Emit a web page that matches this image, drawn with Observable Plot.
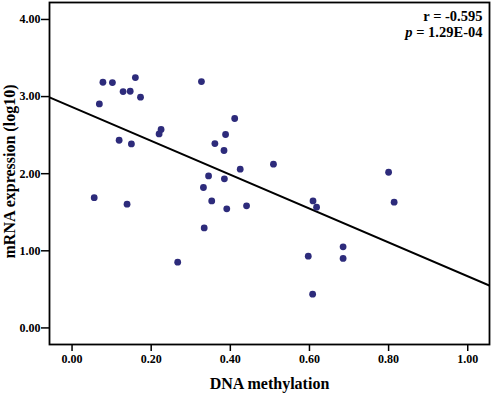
<!DOCTYPE html>
<html>
<head>
<meta charset="utf-8">
<script src="https://cdn.jsdelivr.net/npm/d3@7"></script>
<script src="https://cdn.jsdelivr.net/npm/@observablehq/plot@0.6"></script>
<style>
  html, body { margin: 0; padding: 0; background: #fff; }
  #chart svg { display: block; }
</style>
</head>
<body>
<div id="chart"></div>
<script>
// DNA methylation (x) and mRNA expression log10 (y) for each sample
const methylation = [0.056, 0.069, 0.078, 0.102, 0.129, 0.147, 0.160, 0.173, 0.119, 0.139,
  0.150, 0.220, 0.225, 0.267, 0.327, 0.332, 0.334, 0.345, 0.353, 0.361,
  0.384, 0.388, 0.385, 0.391, 0.411, 0.425, 0.441, 0.509, 0.597, 0.608,
  0.609, 0.618, 0.685, 0.685, 0.800, 0.814];
const expression = [1.689, 2.905, 3.186, 3.182, 3.065, 3.069, 3.247, 2.992, 2.434, 1.605,
  2.386, 2.516, 2.573, 0.853, 3.195, 1.821, 1.297, 1.971, 1.647, 2.391,
  2.301, 2.508, 1.933, 1.544, 2.716, 2.058, 1.583, 2.123, 0.931, 0.438,
  1.647, 1.566, 1.051, 0.901, 2.019, 1.631];
const xTicks = [0, 0.2, 0.4, 0.6, 0.8, 1.0];
const yTicks = [0, 1, 2, 3, 4];
const xDomain = [-0.057, 1.055];
const yDomain = [-0.215, 4.22];
const xLabel = "DNA methylation";
const yLabel = "mRNA expression (log10)";
const rText = "r = -0.595";
const pLabel = "p";
const pText = " = 1.29E-04";

const points = methylation.map((x, i) => ({x, y: expression[i]}));

// least-squares fit computed from the data
const mx = d3.mean(methylation), my = d3.mean(expression);
const sxy = d3.sum(points, d => (d.x - mx) * (d.y - my));
const sxx = d3.sum(points, d => (d.x - mx) ** 2);
const slope = sxy / sxx, intercept = my - slope * mx;
const fitLine = xDomain.map(x => ({x, y: intercept + slope * x}));

const plot = Plot.plot({
  width: 494,
  height: 395,
  marginTop: 2,
  marginRight: 5,
  marginBottom: 51,
  marginLeft: 49,
  style: {fontFamily: "'Liberation Serif', 'Times New Roman', serif", background: "#fff", color: "#000"},
  x: {domain: xDomain},
  y: {domain: yDomain},
  marks: [
    Plot.axisX({ticks: xTicks, tickFormat: d3.format(".2f"), tickSize: 7, tickPadding: 3, fontSize: 12, fontWeight: "bold", label: null, strokeWidth: 1.5}),
    Plot.axisY({ticks: yTicks, tickFormat: d3.format(".2f"), tickSize: 8, tickPadding: 1, fontSize: 12, fontWeight: "bold", label: null, strokeWidth: 1.5}),
    Plot.line(fitLine, {x: "x", y: "y", stroke: "#000", strokeWidth: 2, clip: true}),
    Plot.dot(points, {x: "x", y: "y", r: 3.4, fill: "#2d2b7b", stroke: "none"}),
    Plot.frame({stroke: "#000", strokeWidth: 1.8}),
    Plot.text([xLabel], {frameAnchor: "bottom", dy: 39, fontSize: 16, fontWeight: "bold", lineAnchor: "middle", textAnchor: "middle"}),
    Plot.text([yLabel], {frameAnchor: "left", rotate: -90, dx: -40, dy: -2, fontSize: 16, fontWeight: "bold", lineAnchor: "middle", textAnchor: "middle"}),
    Plot.text([rText], {frameAnchor: "top-right", dx: -7, dy: 14, textAnchor: "end", fontSize: 14.5, fontWeight: "bold", lineAnchor: "middle"}),
    Plot.text([pLabel + pText], {frameAnchor: "top-right", dx: -7, dy: 30, textAnchor: "end", fontSize: 14.5, fontWeight: "bold", lineAnchor: "middle", className: "pline"})
  ]
});

// italicise the "p" in the p-value line
d3.select(plot).selectAll(".pline text").each(function() {
  const t = d3.select(this);
  t.text(null);
  t.append("tspan").attr("font-style", "italic").text(pLabel);
  t.append("tspan").text(pText);
});

document.getElementById("chart").appendChild(plot);
</script>
</body>
</html>
